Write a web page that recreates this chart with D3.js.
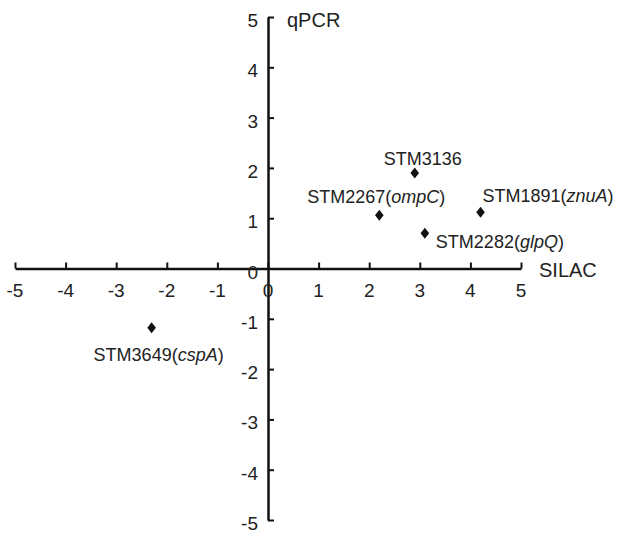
<!DOCTYPE html>
<html>
<head>
<meta charset="utf-8">
<script src="https://cdn.jsdelivr.net/npm/d3@7"></script>
<style>
  body { margin: 0; background: #fff; }
  text { font-family: "Liberation Sans", Arial, sans-serif; fill: #222; }
</style>
</head>
<body>
<script>
// chart size
const width = 620;
const height = 533;

// data
const genes = ["STM3136", "STM2267", "STM1891", "STM2282", "STM3649"];
const geneNames = ["", "ompC", "znuA", "glpQ", "cspA"];
const silac = [2.9, 2.2, 4.2, 3.1, -2.3];
const qpcr = [1.9, 1.06, 1.12, 0.7, -1.18];
const tickValues = [-5, -4, -3, -2, -1, 0, 1, 2, 3, 4, 5];

// where each label sits relative to its point
const labelPlace = [
  { dx: 8, dy: -8, anchor: "middle" },
  { dx: 66, dy: -12, anchor: "end" },
  { dx: 2, dy: -10, anchor: "start" },
  { dx: 11, dy: 15, anchor: "start" },
  { dx: -58, dy: 33, anchor: "start" }
];

var svg = d3.select("body").append("svg")
  .attr("width", width)
  .attr("height", height);

var x = d3.scaleLinear().domain([-5, 5]).range([15, 521]);
var y = d3.scaleLinear().domain([-5, 5]).range([520, 17]);

// x axis through y = 0, ticks pointing up
svg.append("g")
  .attr("transform", "translate(0," + y(0) + ")")
  .call(d3.axisTop(x).tickValues(tickValues).tickSize(6).tickSizeOuter(0).tickFormat(""));

// y axis through x = 0, ticks pointing right
svg.append("g")
  .attr("transform", "translate(" + x(0) + ",0)")
  .call(d3.axisRight(y).tickValues(tickValues).tickSize(6).tickSizeOuter(0).tickFormat(""));

svg.selectAll(".domain").attr("stroke", "#111").attr("stroke-width", 2.5);
svg.selectAll(".tick line").attr("stroke", "#111").attr("stroke-width", 2);

// tick labels
svg.selectAll(".xlab")
  .data(tickValues)
  .enter().append("text")
  .attr("x", d => x(d))
  .attr("y", y(0) + 28)
  .attr("text-anchor", "middle")
  .style("font-size", "19px")
  .text(d => d);

svg.selectAll(".ylab")
  .data(tickValues)
  .enter().append("text")
  .attr("x", x(0) - 10)
  .attr("y", d => y(d) + 10)
  .attr("text-anchor", "end")
  .style("font-size", "19px")
  .text(d => d);

// axis titles
svg.append("text").attr("x", 287).attr("y", 27).style("font-size", "20px").text("qPCR");
svg.append("text").attr("x", 539).attr("y", 277).style("font-size", "20px").text("SILAC");

// diamond markers
var diamond = "M0,-5.5L4.3,0L0,5.5L-4.3,0Z";
svg.selectAll(".pt")
  .data(genes)
  .enter().append("path")
  .attr("d", diamond)
  .attr("transform", (d, i) => "translate(" + x(silac[i]) + "," + y(qpcr[i]) + ")")
  .style("fill", "#111");

// point labels, gene name in italics
var labels = svg.selectAll(".ptlab")
  .data(genes)
  .enter().append("text")
  .attr("x", (d, i) => x(silac[i]) + labelPlace[i].dx)
  .attr("y", (d, i) => y(qpcr[i]) + labelPlace[i].dy)
  .attr("text-anchor", (d, i) => labelPlace[i].anchor)
  .style("font-size", "18px");

labels.each(function (d, i) {
  var t = d3.select(this);
  t.append("tspan").text(d);
  if (geneNames[i]) {
    t.append("tspan").text("(");
    t.append("tspan").style("font-style", "italic").text(geneNames[i]);
    t.append("tspan").text(")");
  }
});
</script>
</body>
</html>
